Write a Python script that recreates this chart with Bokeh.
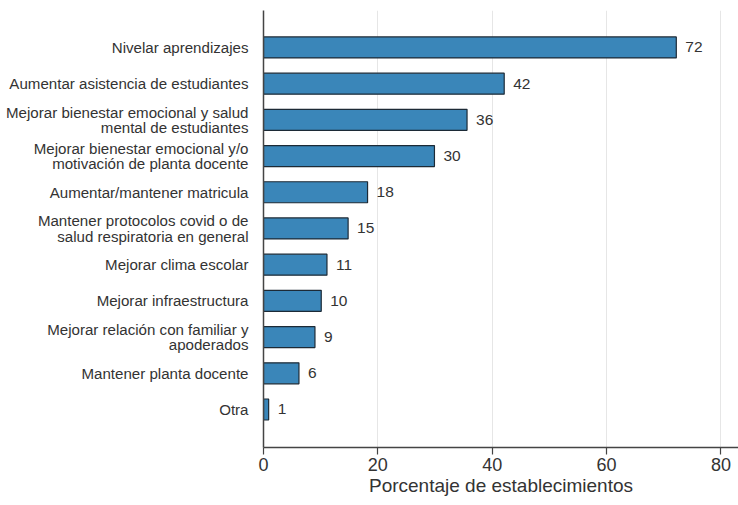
from bokeh.plotting import figure
from bokeh.models import ColumnDataSource, Range1d, FixedTicker
from bokeh.core.properties import value
from bokeh.embed import file_html
from bokeh.resources import INLINE

categories = [
    "Nivelar aprendizajes",
    "Aumentar asistencia de estudiantes",
    "Mejorar bienestar emocional y salud\nmental de estudiantes",
    "Mejorar bienestar emocional y/o\nmotivación de planta docente",
    "Aumentar/mantener matricula",
    "Mantener protocolos covid o de\nsalud respiratoria en general",
    "Mejorar clima escolar",
    "Mejorar infraestructura",
    "Mejorar relación con familiar y\napoderados",
    "Mantener planta docente",
    "Otra",
]
values = [72.2, 42.1, 35.6, 29.9, 18.2, 14.8, 11.1, 10.1, 9.0, 6.2, 0.9]
value_labels = ["72", "42", "36", "30", "18", "15", "11", "10", "9", "6", "1"]
x_ticks = [0, 20, 40, 60, 80]

pos = list(range(len(categories)))
src = ColumnDataSource(dict(y=pos, v=values, lab=value_labels))

FONT = "Liberation Sans"
TXT = "#333333"

p = figure(width=738, height=505, output_backend="svg", toolbar_location=None,
           x_range=Range1d(0, 83.08), y_range=Range1d(11.05, -1.02),
           min_border_left=263, min_border_right=0, min_border_top=10,
           min_border_bottom=58)
p.outline_line_color = None

p.hbar(y="y", right="v", left=0, height=0.58, source=src,
       fill_color="#3a86b9", line_color="#1c2a36", line_width=1.2)
p.text(x="v", y="y", text="lab", source=src, x_offset=9,
       text_baseline="middle", text_align="left",
       text_font=value(FONT), text_font_size="15.5px", text_color=TXT)

# x axis
xa = p.xaxis[0]
xa.ticker = FixedTicker(ticks=x_ticks)
xa.axis_label = "Porcentaje de establecimientos"
xa.axis_label_text_font = FONT
xa.axis_label_text_font_size = "19px"
xa.axis_label_text_font_style = "normal"
xa.axis_label_text_color = TXT
xa.axis_label_standoff = 1
xa.major_label_text_font = FONT
xa.major_label_text_font_size = "18px"
xa.major_label_text_color = TXT
xa.major_label_standoff = 3
xa.major_tick_out = 7
xa.major_tick_in = 0
xa.minor_tick_line_color = None
xa.axis_line_color = "#444444"
xa.axis_line_width = 1.5
xa.major_tick_line_color = "#444444"
xa.major_tick_line_width = 1.2

# y axis
ya = p.yaxis[0]
ya.ticker = FixedTicker(ticks=pos)
ya.major_label_overrides = {i: c for i, c in zip(pos, categories)}
ya.major_label_text_font = FONT
ya.major_label_text_font_size = "15.1px"
ya.major_label_text_color = TXT
ya.major_label_text_line_height = 0.9
ya.major_label_standoff = 9
ya.major_tick_line_color = None
ya.minor_tick_line_color = None
ya.axis_line_color = "#444444"
ya.axis_line_width = 1.5

p.ygrid.grid_line_color = None
p.xgrid.ticker = FixedTicker(ticks=x_ticks[1:])
p.xgrid.grid_line_color = "#e6e6e6"
p.xgrid.grid_line_width = 1

open("out.html", "w").write(file_html(p, INLINE))
